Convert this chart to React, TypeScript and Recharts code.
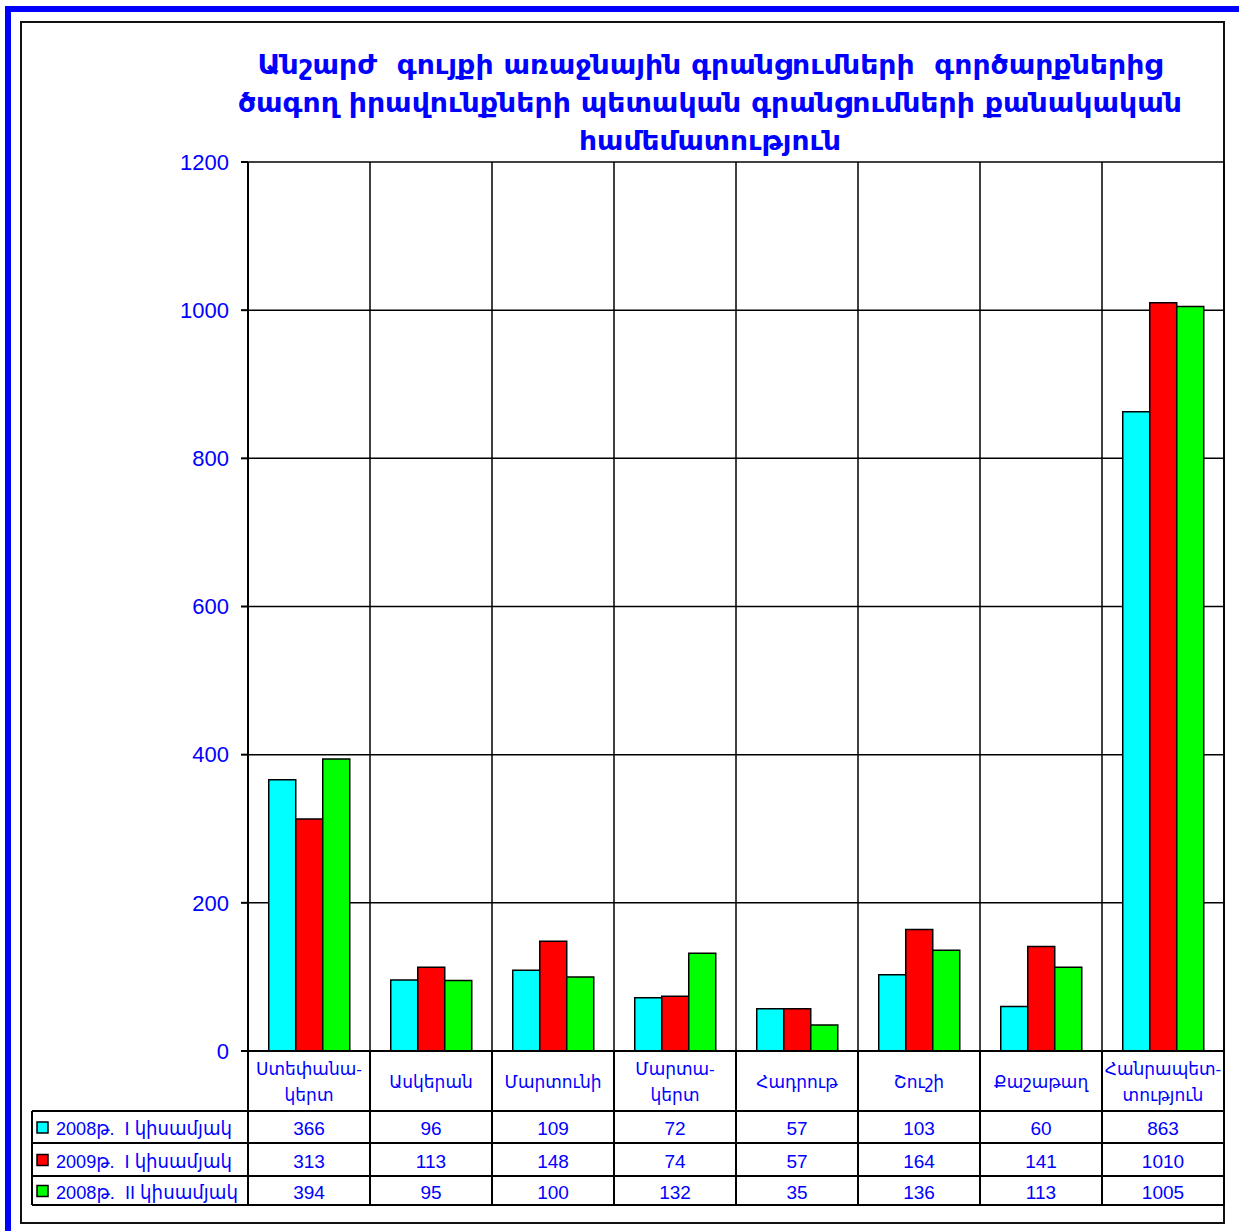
import React from "react";
import { BarChart, Bar, XAxis, YAxis, CartesianGrid } from "recharts";

const titleLines = [
  "Անշարժ  գույքի առաջնային գրանցումների  գործարքներից",
  "ծագող իրավունքների պետական գրանցումների քանակական",
  "համեմատություն",
];

const categories = [
  "Ստեփանա-\nկերտ",
  "Ասկերան",
  "Մարտունի",
  "Մարտա-\nկերտ",
  "Հադրութ",
  "Շուշի",
  "Քաշաթաղ",
  "Հանրապետ-\nտություն",
];

const seriesNames = ["2008թ.  I կիսամյակ", "2009թ.  I կիսամյակ", "2008թ.  II կիսամյակ"];
const seriesColors = ["#00FFFF", "#FF0000", "#00FF00"];

const h1_2008 = [366, 96, 109, 72, 57, 103, 60, 863];
const h1_2009 = [313, 113, 148, 74, 57, 164, 141, 1010];
const h2_2008 = [394, 95, 100, 132, 35, 136, 113, 1005];

const yTicks = [0, 200, 400, 600, 800, 1000, 1200];

const seriesKeys = ["s1", "s2", "s3"];
const seriesValues = [h1_2008, h1_2009, h2_2008];

const data = categories.map((c, i) => ({
  name: c,
  s1: h1_2008[i],
  s2: h1_2009[i],
  s3: h2_2008[i],
}));

const W = 1239;
const H = 1231;
const M = { top: 162, right: 15, bottom: 26, left: 188 };
const Y_AXIS_W = 60;
const X_AXIS_H = 154;
const PLOT_W = W - M.left - M.right - Y_AXIS_W;
const CELL_W = PLOT_W / categories.length;

const BLUE = "#0000FF";
const FONT = "'Liberation Sans', 'DejaVu Sans', Arial, sans-serif";

const ROWS = [60, 92, 125, 154];
const LEGEND_W = 216;
const LEGEND_TEXT_W = [176, 176, 182];

const TableTick = (props: any) => {
  const { x, y, payload, index } = props;
  const left = x - CELL_W / 2;
  const right = x + CELL_W / 2;
  const lines: string[] = String(payload.value).split("\n");
  const els: any[] = [];
  els.push(<line key="l" x1={left} y1={y} x2={left} y2={y + ROWS[3]} stroke="#000" strokeWidth={2} />);
  els.push(<line key="r" x1={right} y1={y} x2={right} y2={y + ROWS[3]} stroke="#000" strokeWidth={2} />);
  ROWS.forEach((r, k) => {
    els.push(
      <line key={"h" + k} x1={index === 0 ? left - LEGEND_W : left} y1={y + r} x2={right} y2={y + r} stroke="#000" strokeWidth={2} />
    );
  });
  if (lines.length === 1) {
    els.push(
      <text key="t" x={x} y={y + 37} textAnchor="middle" fill={BLUE} fontSize={17} fontFamily={FONT}>
        {lines[0]}
      </text>
    );
  } else {
    lines.forEach((ln, k) => {
      els.push(
        <text key={"t" + k} x={x} y={y + 24 + k * 26} textAnchor="middle" fill={BLUE} fontSize={17} fontFamily={FONT}>
          {ln}
        </text>
      );
    });
  }
  seriesValues.forEach((arr, k) => {
    const top = y + ROWS[k];
    const bot = y + ROWS[k + 1];
    els.push(
      <text key={"v" + k} x={x} y={(top + bot) / 2 + 8} textAnchor="middle" fill={BLUE} fontSize={19} fontFamily={FONT}>
        {arr[index]}
      </text>
    );
  });
  if (index === 0) {
    const lx = left - LEGEND_W;
    els.push(<line key="ll" x1={lx} y1={y + ROWS[0]} x2={lx} y2={y + ROWS[3]} stroke="#000" strokeWidth={2} />);
    seriesNames.forEach((nm, k) => {
      const top = y + ROWS[k];
      const bot = y + ROWS[k + 1];
      const cy = (top + bot) / 2;
      els.push(
        <rect key={"sq" + k} x={lx + 5} y={cy - 5} width={11} height={11} fill={seriesColors[k]} stroke="#000" strokeWidth={1.5} />
      );
      els.push(
        <text
          key={"ln" + k}
          x={lx + 24}
          y={cy + 8}
          fill={BLUE}
          fontSize={19}
          fontFamily={FONT}
          textLength={LEGEND_TEXT_W[k]}
          lengthAdjust="spacingAndGlyphs"
          style={{ whiteSpace: "pre" }}
        >
          {nm}
        </text>
      );
    });
  }
  return <g>{els}</g>;
};

const vGen = ({ offset }: any) => {
  const out: number[] = [];
  for (let i = 1; i <= categories.length; i++) out.push(offset.left + (i * offset.width) / categories.length);
  return out;
};

export default function App() {
  return (
    <div style={{ position: "absolute", left: 0, top: 0, width: W, height: H, background: "#fff", overflow: "hidden" }}>
      <div
        style={{
          position: "absolute",
          left: 5,
          top: 6,
          width: W + 20,
          height: H + 20,
          border: "6px solid #0000FF",
          boxSizing: "border-box",
        }}
      />
      <div
        style={{
          position: "absolute",
          left: 20,
          top: 21,
          width: 1205,
          height: 1203,
          border: "2px solid #111",
          boxSizing: "border-box",
        }}
      />
      <div style={{ position: "absolute", left: 0, top: 0 }}>
        <BarChart width={W} height={H} data={data} margin={M} barCategoryGap="17%" barGap={0}>
          <CartesianGrid
            stroke="#000"
            strokeWidth={1.5}
            verticalCoordinatesGenerator={vGen}
          />
          <XAxis
            dataKey="name"
            height={X_AXIS_H}
            tickSize={0}
            tickMargin={0}
            axisLine={{ stroke: "#000", strokeWidth: 2 }}
            tick={<TableTick />}
            interval={0}
          />
          <YAxis
            width={Y_AXIS_W}
            domain={[0, 1200]}
            ticks={yTicks}
            interval={0}
            tickSize={7}
            tickMargin={12}
            axisLine={{ stroke: "#000", strokeWidth: 2 }}
            tickLine={{ stroke: "#000", strokeWidth: 2 }}
            tick={{ fill: BLUE, fontSize: 22, fontFamily: FONT }}
          />
          {seriesKeys.map((k, i) => (
            <Bar key={k} dataKey={k} name={seriesNames[i]} fill={seriesColors[i]} stroke="#000" strokeWidth={1.5} isAnimationActive={false} />
          ))}
        </BarChart>
      </div>
      <svg style={{ position: "absolute", left: 0, top: 0, pointerEvents: "none" }} width={W} height={200}>
        {titleLines.map((t, i) => (
          <text
            key={i}
            x={710}
            y={74 + i * 38}
            textAnchor="middle"
            fill={BLUE}
            fontSize={27}
            fontWeight="bold"
            fontFamily="'DejaVu Sans', sans-serif"
            textLength={[905, 944, 262][i]}
            lengthAdjust="spacingAndGlyphs"
            style={{ whiteSpace: "pre" }}
          >
            {t}
          </text>
        ))}
      </svg>
    </div>
  );
}
